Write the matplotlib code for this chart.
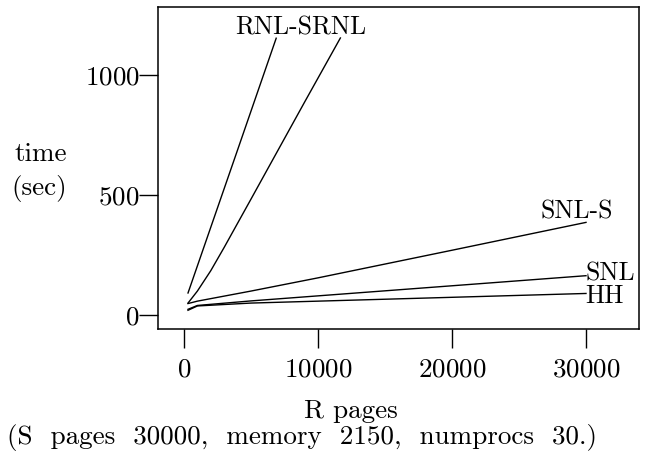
import matplotlib
matplotlib.use("Agg")
import matplotlib.pyplot as plt

plt.rcParams['font.family'] = ['cmr10', 'DejaVu Serif']
plt.rcParams['axes.formatter.use_mathtext'] = True

# timings (sec) against R pages for each join method
rnl_x = [300, 2000, 4000, 6880]
rnl_y = [92, 366, 688, 1153]
srnl_x = [300, 1000, 2000, 3000, 5000, 7000, 9000, 11670]
srnl_y = [50, 100, 185, 282, 483, 685, 887, 1154]
snls_x = [300, 1000, 5000, 10000, 20000, 30000]
snls_y = [48, 58, 100, 155, 270, 386]
snl_x = [300, 1000, 5000, 10000, 20000, 30000]
snl_y = [24, 40, 59, 80, 122, 164]
hh_x = [300, 1000, 5000, 10000, 20000, 30000]
hh_y = [20, 38, 50, 58, 74, 90]

xticks = [0, 10000, 20000, 30000]
yticks = [0, 500, 1000]

fig = plt.figure(figsize=(6.5, 4.57), dpi=100)
ax = fig.add_axes([158 / 650, 1 - 329 / 457, (639 - 158) / 650, (329 - 7) / 457])

for xs, ys in [(rnl_x, rnl_y), (srnl_x, srnl_y), (snls_x, snls_y),
               (snl_x, snl_y), (hh_x, hh_y)]:
    ax.plot(xs, ys, color='black', lw=1.0)

lfs = 18.5
ax.text(8730, 1167, 'RNL-SRNL', ha='center', va='baseline', fontsize=lfs)
ax.text(29330, 404, 'SNL-S', ha='center', va='baseline', fontsize=lfs)
ax.text(29950, 146, 'SNL', ha='left', va='baseline', fontsize=lfs)
ax.text(29950, 50, 'HH', ha='left', va='baseline', fontsize=lfs)

fs = 19.5
ax.set_xlim(-1940, 33955)
ax.set_ylim(-58, 1283)
ax.set_xticks(xticks)
ax.set_yticks(yticks)
ax.tick_params(direction='out', length=13.7, width=1.0, labelsize=fs)
ax.tick_params(axis='x', pad=7)
ax.tick_params(axis='y', pad=-0.5)
for s in ax.spines.values():
    s.set_linewidth(1.1)

fig.text(41 / 650, 1 - 161 / 457, 'time', ha='center', va='baseline', fontsize=fs)
fig.text(39 / 650, 1 - 195 / 457, '(sec)', ha='center', va='baseline', fontsize=fs)
fig.text(351 / 650, 1 - 418 / 457, 'R pages', ha='center', va='baseline', fontsize=fs)
fig.text(302 / 650, 1 - 444 / 457,
         '(S  pages  30000,  memory  2150,  numprocs  30.)',
         ha='center', va='baseline', fontsize=fs)

fig.savefig('out.png', dpi=100)
